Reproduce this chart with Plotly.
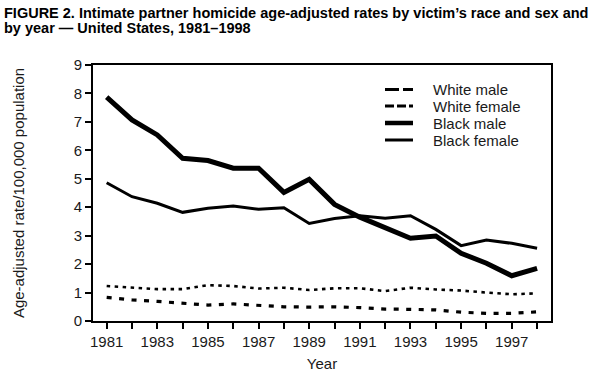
import plotly.graph_objects as go

years = list(range(1981, 1999))
white_male = [0.83, 0.74, 0.69, 0.62, 0.56, 0.60, 0.55, 0.50, 0.49, 0.50,
              0.47, 0.42, 0.41, 0.39, 0.31, 0.27, 0.27, 0.32]
white_female = [1.23, 1.18, 1.12, 1.12, 1.26, 1.23, 1.14, 1.17, 1.09, 1.15,
                1.15, 1.05, 1.17, 1.11, 1.07, 1.00, 0.94, 0.97]
black_male = [7.87, 7.07, 6.54, 5.72, 5.64, 5.37, 5.37, 4.52, 4.98, 4.10,
              3.65, 3.28, 2.91, 2.99, 2.38, 2.03, 1.59, 1.85]
black_female = [4.86, 4.37, 4.14, 3.82, 3.96, 4.04, 3.93, 3.98, 3.43, 3.60,
                3.70, 3.61, 3.70, 3.22, 2.65, 2.85, 2.73, 2.56]
tick_labels = [str(y) if (y - 1981) % 2 == 0 else "" for y in years]
series_names = ["White male", "White female", "Black male", "Black female"]
title_lines = [
    "FIGURE 2. Intimate partner homicide age-adjusted rates by victim’s race and sex and",
    "by year — United States, 1981–1998",
]

FONT = "Liberation Sans, Arial, sans-serif"
TXT = "#1a1a1a"
# plot area in pixels
L, R, T, B = 93, 47, 65, 58
W, H = 598, 379
PW, PH = W - L - R, H - T - B

def px(x):
    return (x - L) / PW

def py(y):
    return (H - B - y) / PH

styles = [
    dict(width=3.2, dash="5px,7.5px"),
    dict(width=2.6, dash="3.5px,4.5px"),
    dict(width=5, dash="solid"),
    dict(width=3, dash="solid"),
]
legend_styles = [
    dict(width=3.2, dash="14px,4px"),
    dict(width=3.0, dash="9px,3px"),
    dict(width=4.5, dash="solid"),
    dict(width=3, dash="solid"),
]

fig = go.Figure()
for name, vals, st in zip(series_names, [white_male, white_female, black_male, black_female], styles):
    fig.add_trace(go.Scatter(x=years, y=vals, mode="lines", name=name,
                             line=dict(color="black", **st), showlegend=False))

shapes = []
annotations = []
legend_rows = [89.5, 106, 123, 140]
for name, yrow, st in zip(series_names, legend_rows, legend_styles):
    shapes.append(dict(type="line", xref="paper", yref="paper",
                       x0=px(385), x1=px(413), y0=py(yrow), y1=py(yrow),
                       line=dict(color="black", **st)))
    annotations.append(dict(text=name, xref="paper", yref="paper",
                            x=px(431), y=py(yrow), xanchor="left", yanchor="middle",
                            showarrow=False, font=dict(family=FONT, size=15, color=TXT)))
for line, yc in zip(title_lines, [12.5, 27.5]):
    annotations.append(dict(text="<b>" + line + "</b>", xref="paper", yref="paper",
                            x=px(2), y=py(yc), xanchor="left", yanchor="middle",
                            showarrow=False, font=dict(family=FONT, size=14.5, color="black")))

fig.update_layout(
    width=W, height=H,
    margin=dict(l=L, r=R, t=T, b=B, autoexpand=False),
    paper_bgcolor="white", plot_bgcolor="white",
    font=dict(family=FONT, color=TXT, size=15),
    showlegend=False,
    shapes=shapes,
    annotations=annotations,
)
fig.update_xaxes(
    range=[1980.46, 1998.55], tickvals=years, ticktext=tick_labels,
    ticks="outside", ticklen=6, tickwidth=1.5, tickcolor="black",
    showline=True, linecolor="black", linewidth=2, mirror=True,
    showgrid=False, zeroline=False, automargin=False,
    title=dict(text="Year", font=dict(family=FONT, size=15, color=TXT), standoff=9),
    tickfont=dict(family=FONT, size=15, color=TXT),
)
fig.update_yaxes(
    range=[0, 9], dtick=1, tick0=0,
    ticks="outside", ticklen=6, tickwidth=1.5, tickcolor="black",
    showline=True, linecolor="black", linewidth=2, mirror=True,
    showgrid=False, zeroline=False, automargin=False,
    title=dict(text="Age-adjusted rate/100,000 population", font=dict(family=FONT, size=15, color=TXT), standoff=45),
    tickfont=dict(family=FONT, size=15, color=TXT),
)

fig.write_html("out.html", config={"displayModeBar": False},
               post_script="document.body.style.margin='0';")
